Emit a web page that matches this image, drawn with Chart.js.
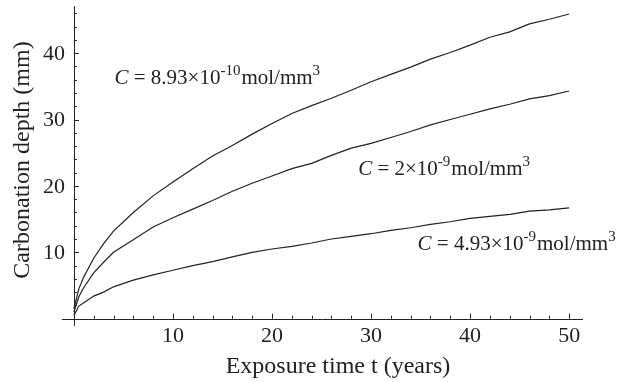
<!DOCTYPE html>
<html>
<head>
<meta charset="utf-8">
<script src="https://cdn.jsdelivr.net/npm/chart.js@4"></script>
<style>
  html, body { margin: 0; padding: 0; background: #fff; }
  #wrap { width: 629px; height: 382px; position: relative; }
</style>
</head>
<body>
<div id="wrap"><canvas id="depthChart"></canvas></div>
<script>
const years = [0, 0.5, 1, 2, 3, 4, 6, 8, 10, 12, 14, 16, 18, 20, 22, 24, 26, 28, 30, 32, 34, 36, 38, 40, 42, 44, 46, 48, 50];
const depthLow = [1.5, 4.5, 6.3, 9.1, 11.3, 13.2, 16.0, 18.5, 20.6, 22.6, 24.5, 26.1, 27.8, 29.4, 30.9, 32.1, 33.2, 34.4, 35.7, 36.8, 37.9, 39.1, 40.1, 41.2, 42.4, 43.2, 44.4, 45.1, 45.9];
const depthMid = [1.0, 3.3, 4.7, 6.9, 8.5, 10.0, 11.9, 13.8, 15.2, 16.5, 17.8, 19.2, 20.4, 21.5, 22.6, 23.4, 24.6, 25.7, 26.4, 27.3, 28.2, 29.2, 30.0, 30.8, 31.6, 32.3, 33.1, 33.6, 34.3];
const depthHigh = [0.5, 1.9, 2.4, 3.4, 4.0, 4.8, 5.8, 6.6, 7.3, 8.0, 8.6, 9.3, 10.0, 10.5, 10.9, 11.4, 12.0, 12.4, 12.8, 13.3, 13.7, 14.2, 14.6, 15.1, 15.4, 15.7, 16.2, 16.4, 16.7];
const xTicks = [10, 20, 30, 40, 50];
const yTicks = [10, 20, 30, 40];

const INK = "#222";
const SERIF = "'Liberation Serif', 'DejaVu Serif', serif";

function toPoints(ys) {
  return years.map((x, i) => ({ x, y: ys[i] }));
}

// labels: each part is [text, italic, superscript]
const curveLabels = [
  { x: 4.1, y: 35.3, parts: [["C", true], [" = 8.93\u00d710"], ["-10", false, true], ["mol/mm"], ["3", false, true]] },
  { x: 28.7, y: 21.7, parts: [["C", true], [" = 2\u00d710"], ["-9", false, true], ["mol/mm"], ["3", false, true]] },
  { x: 34.7, y: 10.4, parts: [["C", true], [" = 4.93\u00d710"], ["-9", false, true], ["mol/mm"], ["3", false, true]] }
];

function drawRich(ctx, x, y, parts) {
  let cx = x;
  parts.forEach(([t, it, sup]) => {
    ctx.font = (it ? "italic " : "") + (sup ? "15px " : "21px ") + SERIF;
    ctx.fillText(t, cx, sup ? y - 9 : y);
    cx += ctx.measureText(t).width + (sup ? 1 : 0);
  });
}

const axesPlugin = {
  id: "mathAxes",
  afterDatasetsDraw(chart) {
    const { ctx, chartArea: a } = chart;
    const xs = chart.scales.x, ys = chart.scales.y;
    const x0 = xs.getPixelForValue(0), y0 = ys.getPixelForValue(0);
    ctx.save();
    ctx.strokeStyle = INK;
    ctx.fillStyle = INK;
    ctx.lineWidth = 1;
    ctx.beginPath();
    ctx.moveTo(a.left, Math.round(y0) + 0.5);
    ctx.lineTo(a.right, Math.round(y0) + 0.5);
    ctx.moveTo(Math.round(x0) + 0.5, a.bottom);
    ctx.lineTo(Math.round(x0) + 0.5, a.top);
    // minor + major ticks pointing inward
    for (let v = 2; v <= 50; v += 2) {
      const px = Math.round(xs.getPixelForValue(v)) + 0.5;
      const len = v % 10 === 0 ? 5 : 3;
      ctx.moveTo(px, y0);
      ctx.lineTo(px, y0 - len);
    }
    for (let v = 2; v <= 46; v += 2) {
      const py = Math.round(ys.getPixelForValue(v)) + 0.5;
      const len = v % 10 === 0 ? 5 : 3;
      ctx.moveTo(x0, py);
      ctx.lineTo(x0 + len, py);
    }
    ctx.stroke();

    ctx.font = "22px " + SERIF;
    ctx.textAlign = "center";
    ctx.textBaseline = "middle";
    xTicks.forEach(v => ctx.fillText(String(v), xs.getPixelForValue(v), y0 + 18));
    ctx.textAlign = "right";
    yTicks.forEach(v => ctx.fillText(String(v), x0 - 9, ys.getPixelForValue(v) + 1));

    ctx.font = "24px " + SERIF;
    ctx.textAlign = "center";
    ctx.textBaseline = "alphabetic";
    ctx.fillText("Exposure time t (years)", 338, 373);
    ctx.save();
    ctx.translate(29, 160);
    ctx.rotate(-Math.PI / 2);
    ctx.fillText("Carbonation depth (mm)", 0, 0);
    ctx.restore();

    ctx.textAlign = "left";
    curveLabels.forEach(l => drawRich(ctx, xs.getPixelForValue(l.x), ys.getPixelForValue(l.y), l.parts));
    ctx.restore();
  }
};

const lineStyle = { borderColor: INK, borderWidth: 1.2, pointRadius: 0, tension: 0, fill: false };

new Chart(document.getElementById("depthChart"), {
  type: "line",
  data: {
    datasets: [
      { label: "C = 8.93e-10", data: toPoints(depthLow), ...lineStyle },
      { label: "C = 2e-9", data: toPoints(depthMid), ...lineStyle },
      { label: "C = 4.93e-9", data: toPoints(depthHigh), ...lineStyle }
    ]
  },
  options: {
    responsive: true,
    maintainAspectRatio: false,
    animation: false,
    layout: { padding: { left: 62, right: 46, top: 6, bottom: 56 } },
    plugins: { legend: { display: false }, tooltip: { enabled: false } },
    scales: {
      x: { type: "linear", min: -1.2, max: 51.4, display: false },
      y: { type: "linear", min: -1.1, max: 47.1, display: false }
    }
  },
  plugins: [axesPlugin]
});
</script>
</body>
</html>
